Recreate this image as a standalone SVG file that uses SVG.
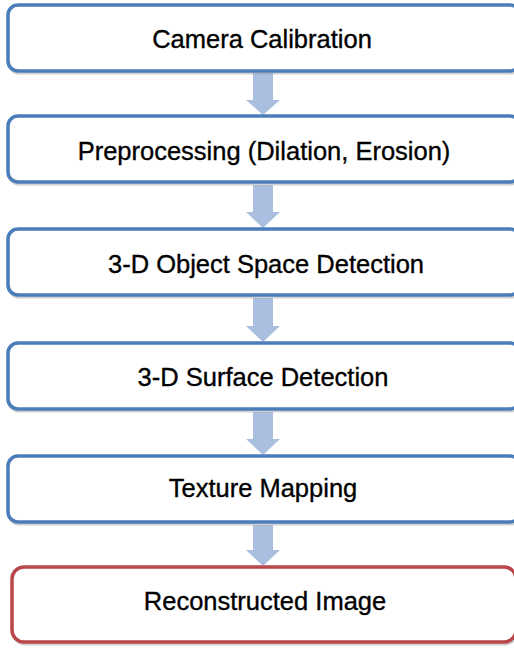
<svg xmlns="http://www.w3.org/2000/svg" width="514" height="649" viewBox="0 0 514 649">
  <defs>
    <style>
      .box { fill: #ffffff; stroke: #4A7DBA; stroke-width: 3.5; }
      .box-end { fill: #ffffff; stroke: #B9474A; stroke-width: 3.5; }
      .shadow { fill: none; stroke: #9a9a9a; stroke-width: 3; opacity: 0.45; }
      .label { font-family: "Liberation Sans", Arial, sans-serif; font-size: 25.5px; fill: #000000; stroke: #000000; stroke-width: 0.35px; text-anchor: middle; }
      .arrow { fill: #AABFDF; }
    </style>
  </defs>
  <rect width="514" height="649" fill="#ffffff"/>

  <!-- flow connectors -->
  <g id="connectors">
    <path class="arrow" d="M253,73 H273 V100 H280 L263,115 L246,100 H253 Z"/>
    <path class="arrow" d="M253,185 H273 V212 H280 L263,228 L246,212 H253 Z"/>
    <path class="arrow" d="M253,298 H273 V326 H280 L263,342 L246,326 H253 Z"/>
    <path class="arrow" d="M253,412 H273 V439 H280 L263,455 L246,439 H253 Z"/>
    <path class="arrow" d="M253,525 H273 V550 H280 L263,566 L246,550 H253 Z"/>
  </g>

  <g id="node-calibration">
    <rect class="shadow" x="9" y="7" width="512" height="66" rx="10"/>
    <rect class="box" x="8" y="5" width="512" height="66" rx="10"/>
    <text class="label" x="262" y="48">Camera Calibration</text>
  </g>

  <g id="node-preprocessing">
    <rect class="shadow" x="9" y="118" width="512" height="66" rx="10"/>
    <rect class="box" x="8" y="116" width="512" height="66" rx="10"/>
    <text class="label" x="264" y="160">Preprocessing (Dilation, Erosion)</text>
  </g>

  <g id="node-object-space">
    <rect class="shadow" x="9" y="231" width="512" height="66" rx="10"/>
    <rect class="box" x="8" y="229" width="512" height="66" rx="10"/>
    <text class="label" x="266" y="273">3-D Object Space Detection</text>
  </g>

  <g id="node-surface">
    <rect class="shadow" x="9" y="345" width="512" height="66" rx="10"/>
    <rect class="box" x="8" y="343" width="512" height="66" rx="10"/>
    <text class="label" x="263" y="386">3-D Surface Detection</text>
  </g>

  <g id="node-texture">
    <rect class="shadow" x="9" y="458" width="512" height="66" rx="10"/>
    <rect class="box" x="8" y="456" width="512" height="66" rx="10"/>
    <text class="label" x="263" y="497">Texture Mapping</text>
  </g>

  <g id="node-reconstructed">
    <rect class="shadow" x="13" y="569" width="504" height="75" rx="12"/>
    <rect class="box-end" x="12" y="567" width="504" height="75" rx="12"/>
    <text class="label" x="265" y="610">Reconstructed Image</text>
  </g>
</svg>
